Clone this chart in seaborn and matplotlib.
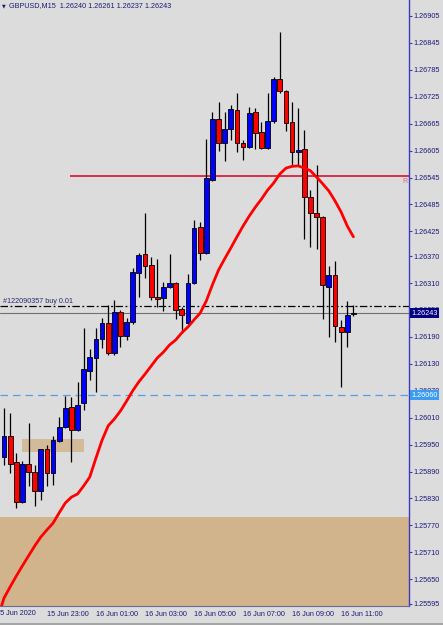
import numpy as np
import pandas as pd
import matplotlib
matplotlib.use("Agg")
import matplotlib.pyplot as plt
import matplotlib.transforms as mtransforms
from matplotlib.lines import Line2D
import seaborn as sns

# GBPUSD M15 candles, 15 Jun 21:15 .. 16 Jun 11:30
opens = [1.25922, 1.25969, 1.25911, 1.25822, 1.25907, 1.25889, 1.25847, 1.25940, 1.25887, 1.25958,
         1.25989, 1.26034, 1.25983, 1.26043, 1.26114, 1.26143, 1.26185, 1.26221, 1.26154, 1.26245,
         1.26192, 1.26223, 1.26332, 1.26375, 1.26350, 1.26279, 1.26277, 1.26301, 1.26310, 1.26252,
         1.26221, 1.26310, 1.26435, 1.26377, 1.26540, 1.26675, 1.26622, 1.26653, 1.26696, 1.26622,
         1.26613, 1.26691, 1.26647, 1.26611, 1.26671, 1.26765, 1.26738, 1.26669, 1.26602, 1.26609,
         1.26502, 1.26466, 1.26457, 1.26301, 1.26328, 1.26212, 1.26201, 1.26240]
highs = [1.26032, 1.26020, 1.25931, 1.25914, 1.25998, 1.25905, 1.25940, 1.25949, 1.25969, 1.26012,
         1.26058, 1.26056, 1.26090, 1.26210, 1.26163, 1.26210, 1.26232, 1.26261, 1.26272, 1.26250,
         1.26232, 1.26344, 1.26377, 1.26466, 1.26368, 1.26364, 1.26312, 1.26375, 1.26312, 1.26257,
         1.26330, 1.26450, 1.26446, 1.26631, 1.26691, 1.26713, 1.26691, 1.26707, 1.26733, 1.26629,
         1.26702, 1.26700, 1.26669, 1.26733, 1.26769, 1.26869, 1.26740, 1.26713, 1.26700, 1.26651,
         1.26517, 1.26573, 1.26459, 1.26348, 1.26359, 1.26228, 1.26270, 1.26261]
lows = [1.25905, 1.25887, 1.25809, 1.25820, 1.25858, 1.25813, 1.25827, 1.25858, 1.25860, 1.25956,
        1.25987, 1.25911, 1.25980, 1.26027, 1.26094, 1.26067, 1.26165, 1.26150, 1.26150, 1.26168,
        1.26183, 1.26219, 1.26279, 1.26321, 1.26272, 1.26257, 1.26248, 1.26299, 1.26230, 1.26199,
        1.26219, 1.26308, 1.26361, 1.26375, 1.26537, 1.26604, 1.26582, 1.26629, 1.26602, 1.26584,
        1.26611, 1.26609, 1.26609, 1.26609, 1.26667, 1.26733, 1.26649, 1.26571, 1.26571, 1.26408,
        1.26390, 1.26386, 1.26230, 1.26190, 1.26179, 1.26078, 1.26168, 1.26237]
closes = [1.25969, 1.25907, 1.25822, 1.25907, 1.25889, 1.25847, 1.25940, 1.25887, 1.25960, 1.25989,
          1.26032, 1.25983, 1.26038, 1.26118, 1.26145, 1.26185, 1.26221, 1.26154, 1.26245, 1.26192,
          1.26223, 1.26335, 1.26372, 1.26348, 1.26279, 1.26274, 1.26301, 1.26310, 1.26250, 1.26239,
          1.26310, 1.26433, 1.26377, 1.26544, 1.26675, 1.26622, 1.26653, 1.26698, 1.26622, 1.26613,
          1.26689, 1.26644, 1.26611, 1.26671, 1.26765, 1.26738, 1.26667, 1.26602, 1.26606, 1.26502,
          1.26466, 1.26457, 1.26306, 1.26328, 1.26214, 1.26201, 1.26239, 1.26243]
# moving average, starts one bar earlier (15 Jun 21:00)
ma_values = [1.25564, 1.25608, 1.25633, 1.25657, 1.25680, 1.25702, 1.25724, 1.25744, 1.25760, 1.25775,
             1.25798, 1.25820, 1.25833, 1.25840, 1.25858, 1.25878, 1.25920, 1.25960, 1.25992, 1.26007,
             1.26025, 1.26047, 1.26070, 1.26090, 1.26107, 1.26125, 1.26143, 1.26156, 1.26172, 1.26183,
             1.26199, 1.26212, 1.26228, 1.26243, 1.26270, 1.26306, 1.26339, 1.26364, 1.26388, 1.26413,
             1.26437, 1.26459, 1.26479, 1.26497, 1.26517, 1.26533, 1.26553, 1.26566, 1.26570, 1.26571,
             1.26566, 1.26560, 1.26546, 1.26531, 1.26515, 1.26493, 1.26468, 1.26437, 1.26413]

x_tick_bars = [8, 16, 24, 32, 40, 48, 56]
x_tick_labels = ["15 Jun 23:00", "16 Jun 01:00", "16 Jun 03:00", "16 Jun 05:00",
                 "16 Jun 07:00", "16 Jun 09:00", "16 Jun 11:00"]
first_label = "15 Jun 2020"
y_ticks = [1.26905, 1.26845, 1.26785, 1.26725, 1.26665, 1.26605, 1.26545, 1.26485, 1.26425,
           1.26370, 1.26310, 1.26250, 1.26190, 1.26130, 1.26070, 1.26010, 1.25950, 1.25890,
           1.25830, 1.25770, 1.25710, 1.25650, 1.25595]

resistance = 1.26549
order_price = 1.26259
bid = 1.26243
alert_level = 1.26060
zone_small = (1.25934, 1.25962)
zone_big_top = 1.25788
header = "GBPUSD,M15  1.26240 1.26261 1.26237 1.26243"
order_label = "#122090357 buy 0.01"

bg = "#dcdcdc"
axis_col = "#3a3abf"
text_col = "#1a1a7a"

sns.set_style("white", {"axes.facecolor": bg, "figure.facecolor": bg})
plt.rcParams["font.family"] = ["Liberation Sans", "DejaVu Sans"]
plt.rcParams["font.size"] = 5.2

fig = plt.figure(figsize=(4.43, 6.25), dpi=100)
ax = fig.add_axes([0, 19 / 625, 408.7 / 443, 606 / 625])
ax.set_facecolor(bg)

n = len(opens)
idx = np.arange(1, n + 1)
df = pd.DataFrame({"bar": idx, "open": opens, "high": highs, "low": lows, "close": closes})
ma_df = pd.DataFrame({"bar": np.arange(0, len(ma_values)), "ma": ma_values})

xmin, xmax = 0.3475, 67.02
ax.set_xlim(xmin, xmax)
ax.set_ylim(1.255904, 1.269406)

# zones
ax.axhspan(1.25, zone_big_top, color="#d2b48c", zorder=1, lw=0)
ax.fill_between([3.94, 14.0], zone_small[0], zone_small[1], color="#d2b48c", alpha=0.85, zorder=1, lw=0)

# candles
ax.vlines(df["bar"], df["low"], df["high"], color="black", lw=0.9, zorder=3)
bull = df["close"] >= df["open"]
body_low = np.minimum(df["open"], df["close"])
body_h = np.maximum(np.abs(df["close"] - df["open"]), 0.00002)
ax.bar(df["bar"], body_h, bottom=body_low, width=0.78,
       color=np.where(bull, "#0000ff", "#ff0000"), edgecolor="black", linewidth=0.6, zorder=4)

# moving average
sns.lineplot(data=ma_df, x="bar", y="ma", ax=ax, color="#ff0000", linewidth=2, zorder=5)

# levels
ax.hlines(resistance, 11.8, xmax, color="#dc1e3c", lw=1.3, zorder=2)
ax.axhline(order_price, color="black", lw=0.9, ls=(0, (6, 2, 1.5, 2)), zorder=2)
ax.axhline(bid, color="#707070", lw=0.8, zorder=2)
ax.axhline(alert_level, color="#5a9be6", lw=0.9, ls=(0, (6, 4)), zorder=2)

ax.text(0.007, order_price + 0.00003, order_label, transform=mtransforms.blended_transform_factory(ax.transAxes, ax.transData),
        ha="left", va="bottom", color="#2a2a70", fontsize=5.2, zorder=6)
ax.text(0.998, resistance - 0.00004, "R", transform=mtransforms.blended_transform_factory(ax.transAxes, ax.transData),
        ha="right", va="top", color="#e0607a", fontsize=5, zorder=6)

# axes styling
for s in ["top", "left"]:
    ax.spines[s].set_visible(False)
ax.spines["right"].set_color(axis_col)
ax.spines["right"].set_linewidth(1.0)
ax.spines["bottom"].set_color("#6a6a9a")
ax.spines["bottom"].set_linewidth(0.8)

ax.yaxis.tick_right()
ax.set_yticks(y_ticks)
ax.set_yticklabels([f"{v:.5f}" for v in y_ticks])
ax.tick_params(axis="y", direction="out", length=2, width=0.8, pad=1.5, colors=axis_col, labelcolor=text_col, labelsize=5.2)
ax.set_xticks(x_tick_bars)
ax.set_xticklabels(x_tick_labels, ha="left")
ax.tick_params(axis="x", direction="out", length=2, width=0.8, pad=1.5, colors=axis_col, labelcolor=text_col, labelsize=5.2)
ax.set_xlabel("")
ax.set_ylabel("")

xt = mtransforms.blended_transform_factory(ax.transData, ax.transAxes)
ax.text(-0.3, -0.0058, first_label, transform=xt, ha="left", va="top", color=text_col, fontsize=5.2, clip_on=False)

# price labels on the axis
yt = mtransforms.blended_transform_factory(ax.transAxes, ax.transData)
ax.text(1.006, bid, f"{bid:.5f}", transform=yt, ha="left", va="center", color="white", fontsize=5.2,
        bbox=dict(facecolor="#000080", edgecolor="none", pad=1.1), clip_on=False, zorder=10)
ax.text(1.006, alert_level, f"{alert_level:.5f}", transform=yt, ha="left", va="center", color="white", fontsize=5.2,
        bbox=dict(facecolor="#3b9cf0", edgecolor="none", pad=1.1), clip_on=False, zorder=10)

# header
fig.text(2 / 443, 1 - 5.5 / 625, "\u25bc", family="DejaVu Sans", fontsize=3.5, color=text_col, va="center", ha="left")
fig.text(9 / 443, 1 - 5.5 / 625, header, fontsize=5.2, color=text_col, va="center", ha="left")

fig.add_artist(Line2D([0, 1], [1.5 / 625, 1.5 / 625], color="#9a9a9a", lw=1.2))

fig.savefig("out.png", dpi=100, facecolor=bg)
